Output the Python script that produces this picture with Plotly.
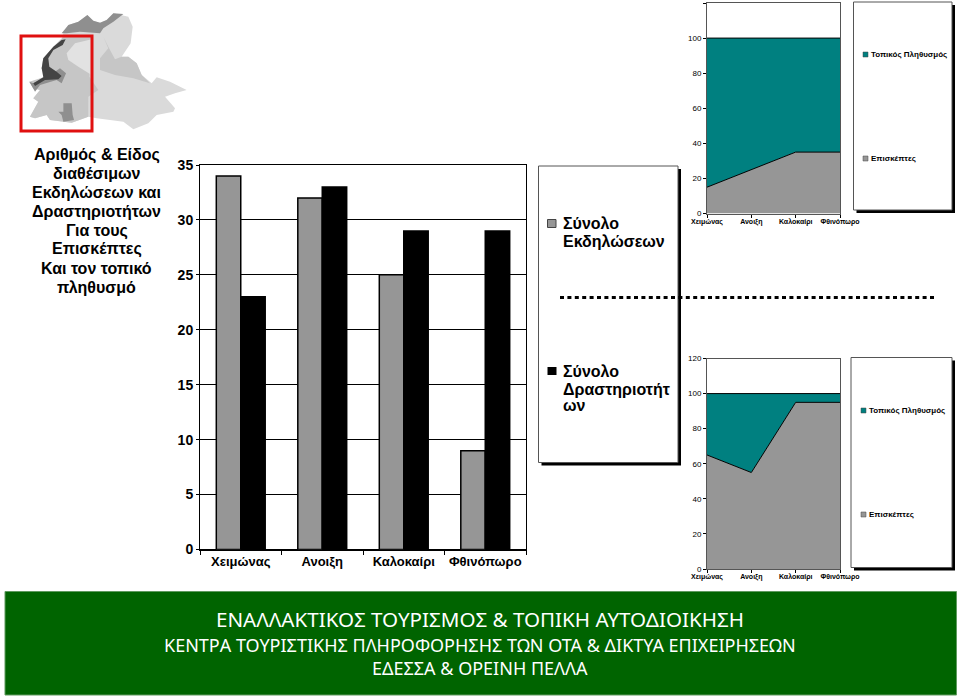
import plotly.graph_objects as go

W = 960
H = 696

seasons = ["Χειμώνας", "Ανοιξη", "Καλοκαίρι", "Φθινόπωρο"]

# bar chart
total_events = [34, 32, 25, 9]
total_activities = [23, 33, 29, 29]
bar_ticks = [0, 5, 10, 15, 20, 25, 30, 35]

# area charts (100% stacked)
top_visitors = [15, 25, 35, 35]
top_locals = [85, 75, 65, 65]
bottom_visitors = [65, 55, 95, 95]
bottom_locals = [35, 45, 5, 5]
area_ticks = [0, 20, 40, 60, 80, 100, 120]

title_lines = ["Αριθμός & Είδος", "διαθέσιμων", "Εκδηλώσεων και", "Δραστηριοτήτων",
               "Για τους", "Επισκέπτες", "Και τον τοπικό", "πληθυσμό"]
footer_lines = ["ΕΝΑΛΛΑΚΤΙΚΟΣ ΤΟΥΡΙΣΜΟΣ & ΤΟΠΙΚΗ ΑΥΤΟΔΙΟΙΚΗΣΗ",
                "ΚΕΝΤΡΑ ΤΟΥΡΙΣΤΙΚΗΣ ΠΛΗΡΟΦΟΡΗΣΗΣ ΤΩΝ ΟΤΑ & ΔΙΚΤΥΑ ΕΠΙΧΕΙΡΗΣΕΩΝ",
                "ΕΔΕΣΣΑ & ΟΡΕΙΝΗ ΠΕΛΛΑ"]

GREY = "#969696"
TEAL = "#008080"
GREEN = "#006400"
FONT = "Liberation Sans"

# decorative map, in pixels x3
map_shapes = [
    ("#dadada", [(190,100),(205,75),(235,65),(262,45),(280,62),(300,68),(320,60),(340,40),(385,50),(398,80),(392,130),
                 (365,170),(385,170),(410,190),(425,225),(455,250),(470,232),(510,245),(560,270),(525,280),(495,290),
                 (525,325),(520,335),(470,345),(445,370),(400,388),(370,365),(290,355),(265,350),(215,368),(150,360),
                 (140,345),(105,355),(90,350),(115,305),(100,295),(120,270),(100,265),(88,245),(100,250),(135,230),
                 (125,205),(130,175),(160,140),(185,120)]),
    ("#c6c6c6", [(190,110),(275,105),(268,230),(295,270),(265,290),(265,350),(215,368),(150,360),(140,345),(105,355),
                 (90,350),(115,305),(100,295),(120,270),(100,265),(88,245),(135,230),(125,205),(130,175),(160,140)]),
    ("#e2e2e2", [(200,160),(225,130),(275,118),(275,225),(235,200),(205,180)]),
    ("#c6c6c6", [(310,110),(325,145),(300,175),(300,210),(345,225),(400,235),(450,250),(425,225),(410,190),(385,170),
                 (365,170),(345,178),(330,150)]),
    ("#8f8f8f", [(185,100),(205,75),(235,65),(262,45),(280,62),(300,68),(320,60),(340,40),(370,42),(340,65),(310,85),
                 (300,100),(240,95),(200,100)]),
    ("#8f8f8f", [(165,215),(180,205),(198,220),(185,250),(170,240),(120,255),(105,275),(88,245),(100,250),(135,235)]),
    ("#8f8f8f", [(190,310),(215,310),(218,345),(222,360),(190,365),(185,345),(175,335),(190,335)]),
    ("#444444", [(197,118),(188,135),(160,150),(145,175),(148,200),(170,215),(185,228),(175,238),(135,240),(105,258),
                 (100,250),(130,232),(125,205),(130,175),(160,140),(185,120)]),
]


def fx(x):
    return x / W


def fy(y):
    return 1 - y / H


def rect(x0, y0, x1, y1, fill, line=None, width=1):
    return dict(type="rect", xref="paper", yref="paper", x0=fx(x0), x1=fx(x1), y0=fy(y0), y1=fy(y1),
                fillcolor=fill, line=dict(color=line, width=width if line else 0))


def label(x, y, text, size, color="black", anchor="left", family=FONT, weight="normal"):
    return dict(x=fx(x), y=fy(y), xref="paper", yref="paper", text=text, showarrow=False, xanchor=anchor,
                yanchor="middle", font=dict(family=family, size=size, color=color, weight=weight))


def legend_box(x0, y0, x1, y1):
    return [rect(x0 + 3, y0 + 3, x1 + 3, y1 + 3, "black"), rect(x0, y0, x1, y1, "white", "#555555", 1)]


fig = go.Figure()

fig.add_trace(go.Bar(x=seasons, y=total_events, name="Σύνολο Εκδηλώσεων", marker=dict(color=GREY, line=dict(color="black", width=1.5)),
                     xaxis="x", yaxis="y"))
fig.add_trace(go.Bar(x=seasons, y=total_activities, name="Σύνολο Δραστηριοτήτων", marker=dict(color="black", line=dict(color="black", width=1.5)),
                     xaxis="x", yaxis="y"))

for visitors, locals_, xa, ya, grp in [(top_visitors, top_locals, "x2", "y2", "top"),
                                       (bottom_visitors, bottom_locals, "x3", "y3", "bottom")]:
    fig.add_trace(go.Scatter(x=seasons, y=visitors, name="Επισκέπτες", mode="lines", stackgroup=grp, xaxis=xa, yaxis=ya,
                             line=dict(color="black", width=1), fillcolor=GREY))
    fig.add_trace(go.Scatter(x=seasons, y=locals_, name="Τοπικός Πληθυσμός", mode="lines", stackgroup=grp, xaxis=xa, yaxis=ya,
                             line=dict(color="black", width=1), fillcolor=TEAL))

shapes = []
annotations = []

# footer
shapes.append(rect(5, 591.5, 956.5, 695, GREEN, "#5f9a5f", 1))
annotations.append(label(480, 619, footer_lines[0], 20.6, "white", "center", "Noto Sans"))
annotations.append(label(480, 645, footer_lines[1], 18, "white", "center", "Noto Sans"))
annotations.append(label(480, 668, footer_lines[2], 18, "white", "center", "Noto Sans"))

# map
for color, pts in map_shapes:
    path = "M " + " L ".join(f"{fx(px / 3):.4f},{fy(py / 3):.4f}" for px, py in pts) + " Z"
    shapes.append(dict(type="path", xref="paper", yref="paper", path=path, fillcolor=color, line=dict(width=0)))
shapes.append(rect(21, 36, 92, 131, "rgba(0,0,0,0)", "#e01010", 3))

# left title
for i, line in enumerate(title_lines):
    annotations.append(label(96.5, 154.5 + i * 19, line, 16, anchor="center", weight="bold"))

# bar legend
shapes += legend_box(538.5, 166, 678, 462.5)
shapes.append(rect(547.5, 219.5, 556, 227.5, GREY, "#444444", 1))
shapes.append(rect(547.5, 367, 556.5, 375, "black"))
annotations.append(label(560.5, 223.5, "Σύνολο", 16, weight="bold"))
annotations.append(label(560.5, 241, "Εκδηλώσεων", 16, weight="bold"))
annotations.append(label(560.5, 372, "Σύνολο", 16, weight="bold"))
annotations.append(label(560.5, 389, "Δραστηριοτήτ", 16, weight="bold"))
annotations.append(label(560.5, 405, "ων", 16, weight="bold"))

# divider
shapes.append(dict(type="line", xref="paper", yref="paper", x0=fx(560), x1=fx(937), y0=fy(297.5), y1=fy(297.5),
                   line=dict(color="black", width=3, dash="4px,3.4px")))

# area legends
shapes += legend_box(853.5, 2, 952, 210)
shapes += legend_box(851, 357.5, 952, 567.5)
shapes.append(rect(863, 52, 868, 57, TEAL, "#444444", 0.5))
shapes.append(rect(863, 156, 868, 161, GREY, "#444444", 0.5))
shapes.append(rect(861, 408, 866, 413, TEAL, "#444444", 0.5))
shapes.append(rect(861, 512, 866, 517, GREY, "#444444", 0.5))
annotations.append(label(869, 54.5, "Τοπικός Πληθυσμός", 8, weight="bold"))
annotations.append(label(869, 158.5, "Επισκέπτες", 8, weight="bold"))
annotations.append(label(867, 410.5, "Τοπικός Πληθυσμός", 8, weight="bold"))
annotations.append(label(867, 514.5, "Επισκέπτες", 8, weight="bold"))


def area_axes(top, bottom, xa, ya):
    xaxis = dict(domain=[fx(707), fx(840)], range=[0, 3], type="category", categoryorder="array", categoryarray=seasons,
                 anchor=ya, ticks="outside", ticklen=3, ticklabelstandoff=-2, tickcolor="black",
                 tickfont=dict(family=FONT, size=7, color="black", weight="bold"), showline=True, linecolor="#555555",
                 linewidth=1, mirror=True, showgrid=False, tickangle=0)
    yaxis = dict(domain=[fy(bottom), fy(top)], range=[0, 120], tickvals=area_ticks, anchor=xa, ticks="outside", ticklen=3,
                 tickcolor="black", tickfont=dict(family=FONT, size=8, color="black"), showline=True, linecolor="#555555",
                 linewidth=1, mirror=True, showgrid=False, zeroline=False)
    return xaxis, yaxis


x2, y2 = area_axes(3, 213.5, "x2", "y2")
x3, y3 = area_axes(358.5, 569, "x3", "y3")

fig.update_layout(
    width=W,
    height=H,
    margin=dict(l=0, r=0, t=0, b=0, autoexpand=False),
    paper_bgcolor="white",
    plot_bgcolor="white",
    showlegend=False,
    barmode="group",
    bargap=0.4,
    bargroupgap=0,
    shapes=shapes,
    annotations=annotations,
    xaxis=dict(domain=[fx(200), fx(526)], type="category", tickson="boundaries", ticks="outside", ticklen=4,
               anchor="y", tickcolor="black", tickfont=dict(family=FONT, size=13, color="black", weight="bold"),
               showline=True, linecolor="black", linewidth=1, mirror=True, showgrid=False, tickangle=0),
    yaxis=dict(domain=[fy(549.5), fy(165)], range=[0, 35], tickvals=bar_ticks, anchor="x", ticks="outside", ticklen=3,
               tickcolor="black", tickfont=dict(family=FONT, size=14, color="black", weight="bold"), showline=True,
               linecolor="black", linewidth=1, mirror=True, showgrid=True, gridcolor="black", gridwidth=1,
               zeroline=True, zerolinecolor="black", zerolinewidth=2),
    xaxis2=x2,
    yaxis2=y2,
    xaxis3=x3,
    yaxis3=y3,
)

# the page's default body margin would shift everything by 8px
fig.write_html("out.html", config=dict(displayModeBar=False), post_script="document.body.style.margin='0';")
